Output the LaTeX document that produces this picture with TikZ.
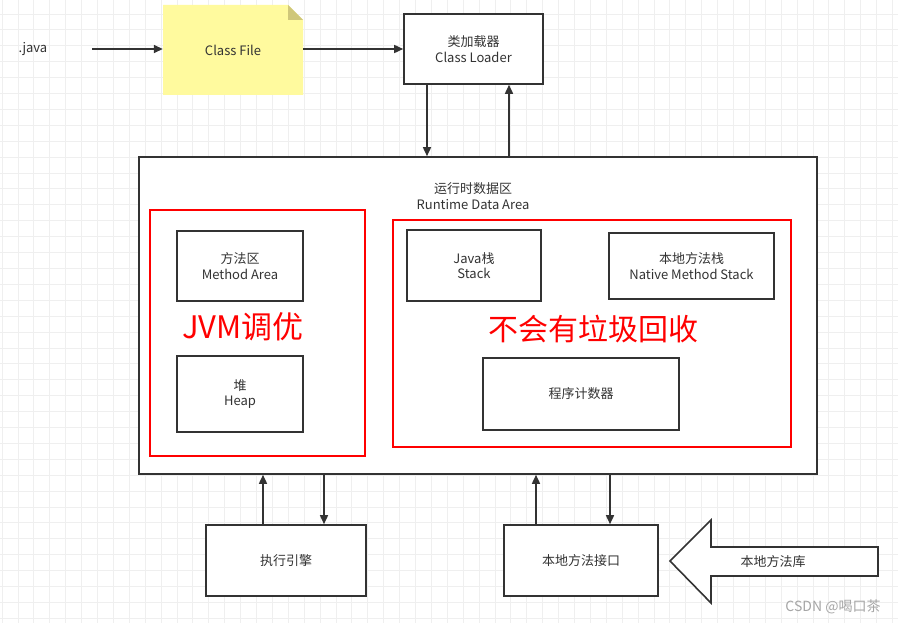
\documentclass[tikz,border=0pt]{standalone}
\usepackage{fontspec}
\setmainfont{Noto Sans CJK SC}
\usetikzlibrary{arrows.meta}
\definecolor{ink}{HTML}{333333}
\definecolor{gridc}{HTML}{EFEFEF}
\definecolor{notey}{HTML}{FFFA9E}
\definecolor{fold}{HTML}{CFC77A}
\tikzset{
  box/.style={draw=ink, line width=1.6pt, fill=white, text=ink, font=\fontsize{13}{15.5}\selectfont, align=center, inner sep=0pt},
  redbox/.style={draw=red, line width=1.6pt},
  conn/.style={draw=ink, line width=1.6pt, -{Triangle[length=9pt,width=8pt]}},
  lbl/.style={text=ink, font=\fontsize{13}{15.5}\selectfont, align=center},
  big/.style={text=red, font=\fontsize{30}{34}\selectfont},
}
\begin{document}
\begin{tikzpicture}[x=1pt,y=-1pt]
\fill[white] (0,0) rectangle (898,623);
\useasboundingbox (0,0) rectangle (898,623);
\foreach \i in {0,...,56} {\draw[gridc, line width=0.8pt] (2+\i*15.9,0) -- (2+\i*15.9,623);}
\foreach \j in {0,...,39} {\draw[gridc, line width=0.8pt] (0,14+\j*15.9) -- (898,14+\j*15.9);}

% .java and class file
\node[lbl, anchor=west] (java) at (15,49) {.java};
\fill[notey] (163,5) -- (288,5) -- (303,20) -- (303,95) -- (163,95) -- cycle;
\fill[fold] (288,5) -- (303,20) -- (288,20) -- cycle;
\node[lbl, minimum width=140pt, minimum height=90pt, inner sep=0pt] (cf) at (233,50) {Class File};
\coordinate (javaend) at (92,49);
\draw[conn] (javaend) -- (cf.west |- javaend);

% class loader
\node[box, minimum width=139pt, minimum height=70pt] (cl) at (473.5,49) {类加载器\\Class Loader};
\draw[conn] (cf.east |- cl.west) -- (cl.west);

% runtime data area
\node[box, minimum width=678pt, minimum height=317pt] (rt) at (478,315.5) {};
\node[lbl] (rtl) at (473,196) {运行时数据区\\Runtime Data Area};
\draw[conn] (cl.south -| 427,0) -- (rt.north -| 427,0);
\draw[conn] (rt.north -| 509,0) -- (cl.south -| 509,0);

% left red area
\draw[redbox] (150,210) rectangle (365,456);
\node[box, minimum width=126pt, minimum height=70pt] (ma) at (240,266) {方法区\\Method Area};
\node[box, minimum width=126pt, minimum height=76pt] (heap) at (240,394) {堆\\Heap};
\node[big, font=\fontsize{31}{34}\selectfont] (jvm) at (243,327) {JVM调优};

% right red area
\draw[redbox] (393,220) rectangle (791,447);
\node[box, minimum width=134pt, minimum height=71pt] (js) at (474,265.5) {Java栈\\Stack};
\node[box, minimum width=165pt, minimum height=66pt] (ns) at (691.5,266) {本地方法栈\\Native Method Stack};
\node[box, minimum width=196pt, minimum height=72pt] (pc) at (581,394) {程序计数器};
\node[big] (nogc) at (593,329) {不会有垃圾回收};

% bottom
\node[box, minimum width=160pt, minimum height=71pt] (ee) at (286,560.5) {执行引擎};
\node[box, minimum width=154pt, minimum height=71pt] (ni) at (581,560.5) {本地方法接口};
\draw[conn] (ee.north -| 263,0) -- (rt.south -| 263,0);
\draw[conn] (rt.south -| 324,0) -- (ee.north -| 324,0);
\draw[conn] (ni.north -| 536,0) -- (rt.south -| 536,0);
\draw[conn] (rt.south -| 610,0) -- (ni.north -| 610,0);

% native library arrow
\draw[ink, line width=1.6pt, fill=white, line join=miter] (670,561) -- (711,520) -- (711,547) -- (878,547) -- (878,576) -- (711,576) -- (711,603) -- cycle;
\node[lbl] (nl) at (773,561.5) {本地方法库};

\node[text=gray!70, font=\fontsize{14}{16}\selectfont] (wm) at (833,607) {CSDN @喝口茶};
\end{tikzpicture}
\end{document}
